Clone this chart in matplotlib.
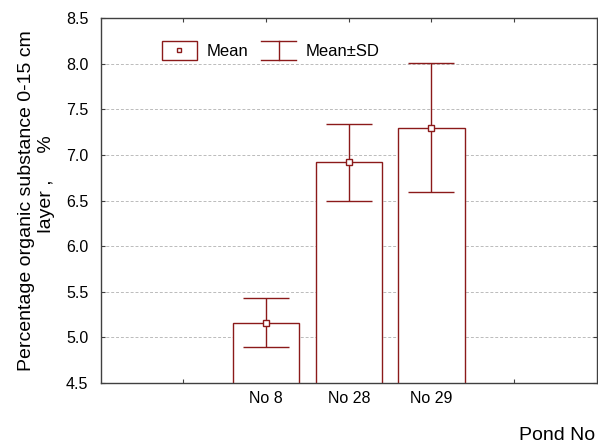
import matplotlib
matplotlib.use("Agg")
import matplotlib.pyplot as plt
from matplotlib.legend_handler import HandlerBase
from matplotlib.patches import Rectangle
from matplotlib.lines import Line2D

plt.rcParams['font.family'] = ['Liberation Sans', 'DejaVu Sans']

# data
ponds = ["No 8", "No 28", "No 29"]
means = [5.16, 6.92, 7.30]
sds = [0.27, 0.42, 0.71]
y_ticks = [4.5, 5.0, 5.5, 6.0, 6.5, 7.0, 7.5, 8.0, 8.5]

RED = "#8b1a1a"
SPINE = "#404040"


class MeanHandler(HandlerBase):
    # box with the small mean square in the middle
    def create_artists(self, legend, orig, xd, yd, w, h, fontsize, trans):
        rect = Rectangle((-xd, -yd), w, h, facecolor="white", edgecolor=RED,
                         lw=1, transform=trans)
        dot = Line2D([-xd + w / 2], [-yd + h / 2], marker="s", ms=3.5,
                     mfc="white", mec=RED, mew=1, ls="none", transform=trans)
        return [rect, dot]


class SDHandler(HandlerBase):
    # whisker symbol: two caps and a stem
    def create_artists(self, legend, orig, xd, yd, w, h, fontsize, trans):
        x0, y0 = -xd, -yd
        top = Line2D([x0, x0 + w], [y0 + h, y0 + h], color=RED, lw=1, transform=trans)
        bot = Line2D([x0, x0 + w], [y0, y0], color=RED, lw=1, transform=trans)
        stem = Line2D([x0 + w / 2, x0 + w / 2], [y0, y0 + h], color=RED, lw=1, transform=trans)
        return [top, bot, stem]


fig = plt.figure(figsize=(5.98, 4.48), dpi=100)
ax = fig.add_axes([0.1684, 0.1458, 0.8296, 0.8132])

xpos = [2, 3, 4]
ax.bar(xpos, means, width=0.8, color="white", edgecolor=RED, linewidth=1, zorder=2)
ax.errorbar(xpos, means, yerr=sds, fmt="none", ecolor=RED, elinewidth=1,
            capsize=16.5, capthick=1, zorder=3)
ax.plot(xpos, means, ls="none", marker="s", ms=4, mfc="white", mec=RED,
        mew=1, zorder=4)

ax.set_xlim(0, 6)
ax.set_ylim(4.5, 8.5)
ax.set_xticks([1, 2, 3, 4, 5])
ax.set_xticklabels([""] + ponds + [""])
ax.set_yticks(y_ticks)
ax.set_yticklabels([f"{v:.1f}" for v in y_ticks])
ax.tick_params(direction="in", length=3, width=0.8, color=SPINE,
               top=True, right=True, labelsize=11.5, pad=6)
ax.tick_params(axis="y", pad=9)

for s in ax.spines.values():
    s.set_color(SPINE)
    s.set_linewidth(1)

ax.yaxis.grid(True, linestyle=(0, (3, 2)), color="#bbbbbb", linewidth=0.7, zorder=0)
ax.set_axisbelow(True)

ax.set_ylabel("Percentage organic substance 0-15 cm\n      layer ,     %",
              fontsize=14, linespacing=1.25)
ax.yaxis.set_label_coords(-0.092, 0.5)

fig.text(0.996, 0.018, "Pond No", ha="right", va="baseline", fontsize=14)

h_mean = Line2D([], [])
h_sd = Line2D([], [])
ax.legend(handles=[h_mean, h_sd], labels=["Mean", "Mean\u00b1SD"],
          handler_map={h_mean: MeanHandler(), h_sd: SDHandler()},
          ncol=2, frameon=False, fontsize=12, loc="center left",
          bbox_to_anchor=(0.1, 0.912), handlelength=2.1, handleheight=1.3,
          handletextpad=0.55, columnspacing=0.8, borderpad=0.2)

fig.savefig("out.png", dpi=100)
